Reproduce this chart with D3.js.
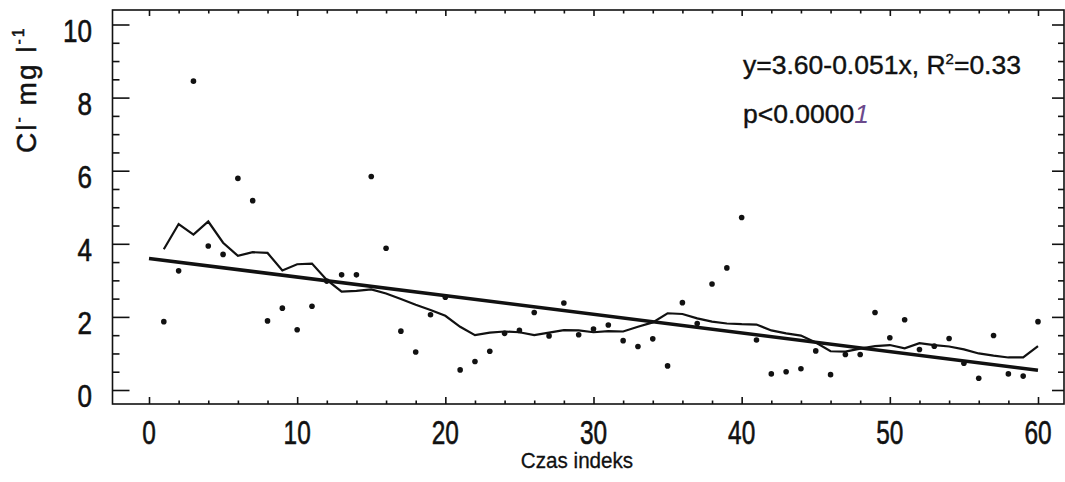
<!DOCTYPE html>
<html>
<head>
<meta charset="utf-8">
<script src="https://cdn.jsdelivr.net/npm/d3@7"></script>
<style>
  body { margin: 0; background: #fff; }
  svg { display: block; font-family: "Liberation Sans", Arial, sans-serif; }
</style>
</head>
<body>
<div id="chart"></div>
<script>
// time index 1..60
const idx = d3.range(1, 61);
const chloride = [1.87, 3.26, 8.45, 3.94, 3.71, 5.79, 5.18, 1.89, 2.24, 1.65,
    2.29, 2.98, 3.15, 3.15, 5.84, 3.88, 1.61, 1.04, 2.06, 2.54,
    0.55, 0.78, 1.06, 1.55, 1.63, 2.12, 1.48, 2.38, 1.51, 1.67,
    1.78, 1.35, 1.19, 1.40, 0.66, 2.39, 1.82, 2.90, 3.34, 4.72,
    1.37, 0.44, 0.50, 0.58, 1.07, 0.42, 0.97, 0.97, 2.12, 1.43,
    1.92, 1.11, 1.20, 1.41, 0.73, 0.32, 1.49, 0.44, 0.38, 1.87];
const smooth = [3.85, 4.54, 4.25, 4.61, 4.03, 3.67, 3.77, 3.75, 3.27, 3.44,
    3.46, 3.01, 2.69, 2.71, 2.75, 2.64, 2.49, 2.33, 2.19, 2.03,
    1.73, 1.50, 1.57, 1.60, 1.58, 1.50, 1.57, 1.64, 1.63, 1.58,
    1.61, 1.60, 1.73, 1.85, 2.10, 2.08, 1.96, 1.87, 1.82, 1.80,
    1.79, 1.63, 1.55, 1.49, 1.30, 1.06, 1.05, 1.13, 1.20, 1.23,
    1.14, 1.28, 1.23, 1.19, 1.11, 1.00, 0.94, 0.89, 0.89, 1.20];
const intercept = 3.60, slope = -0.051;
const xTicks = [0, 10, 20, 30, 40, 50, 60];
const yTicks = [0, 2, 4, 6, 8, 10];

const W = 1065, H = 482;
const frame = {left: 112.5, top: 10, right: 1064, bottom: 404};

const x = d3.scaleLinear().domain([0, 60]).range([149, 1038]);
const y = d3.scaleLinear().domain([0, 10]).range([390, 24.5]);

const svg = d3.select("#chart").append("svg")
    .attr("width", W)
    .attr("height", H);

// frame
svg.append("rect")
    .attr("x", frame.left).attr("y", frame.top)
    .attr("width", frame.right - frame.left)
    .attr("height", frame.bottom - frame.top)
    .attr("fill", "none")
    .attr("stroke", "#111")
    .attr("stroke-width", 1.6);

const yMinor = d3.range(0, 10.01, 0.5).filter(v => v % 2 !== 0);
const xMinor = d3.range(0, 60.01, 2).filter(v => v % 10 !== 0);

function tickAxis(axis, pos, ticks, size) {
    svg.append("g")
        .attr("transform", pos)
        .call(axis.tickValues(ticks).tickSize(size).tickFormat(""))
        .call(g => g.select(".domain").remove())
        .call(g => g.selectAll("line").attr("stroke", "#111").attr("stroke-width", 1.6));
}
// inward ticks on all four sides
tickAxis(d3.axisLeft(y), `translate(${frame.left},0)`, yTicks, -17);
tickAxis(d3.axisLeft(y), `translate(${frame.left},0)`, yMinor, -7);
tickAxis(d3.axisRight(y), `translate(${frame.right},0)`, yTicks, -12);
tickAxis(d3.axisRight(y), `translate(${frame.right},0)`, yMinor, -6);
tickAxis(d3.axisBottom(x), `translate(0,${frame.bottom})`, xTicks, -7);
tickAxis(d3.axisBottom(x), `translate(0,${frame.bottom})`, xMinor, -3.5);
tickAxis(d3.axisTop(x), `translate(0,${frame.top})`, xTicks, -6);
tickAxis(d3.axisTop(x), `translate(0,${frame.top})`, xMinor, -3.5);

// tick labels (condensed look, a bit heavy like the scan)
svg.selectAll(".ylab")
    .data(yTicks)
    .enter().append("text")
    .attr("class", "ylab")
    .attr("transform", d => `translate(92,${y(d) + 17}) scale(0.84,1)`)
    .attr("text-anchor", "end")
    .attr("font-size", "31px")
    .attr("fill", "#111")
    .attr("stroke", "#111")
    .attr("stroke-width", 0.6)
    .text(d => d);

svg.selectAll(".xlab")
    .data(xTicks)
    .enter().append("text")
    .attr("class", "xlab")
    .attr("transform", d => `translate(${x(d)},444) scale(0.74,1)`)
    .attr("text-anchor", "middle")
    .attr("font-size", "33px")
    .attr("fill", "#111")
    .attr("stroke", "#111")
    .attr("stroke-width", 0.6)
    .text(d => d);

svg.append("text")
    .attr("transform", "translate(577,468) scale(0.96,1)")
    .attr("text-anchor", "middle")
    .attr("font-size", "21.5px")
    .attr("fill", "#111")
    .attr("stroke", "#111")
    .attr("stroke-width", 0.3)
    .text("Czas indeks");

// y title
const yt = svg.append("text")
    .attr("transform", "translate(36,153) rotate(-90)")
    .attr("font-size", "28px")
    .attr("letter-spacing", "2px")
    .attr("fill", "#111")
    .attr("stroke", "#111")
    .attr("stroke-width", 0.5);
yt.append("tspan").text("Cl");
yt.append("tspan").attr("font-size", "16px").attr("dy", -12).text("-");
yt.append("tspan").attr("dy", 12).text(" mg l");
yt.append("tspan").attr("font-size", "16px").attr("dy", -12).text("-1");

// regression line
svg.append("line")
    .attr("x1", x(0)).attr("y1", y(intercept))
    .attr("x2", x(60)).attr("y2", y(intercept + slope * 60))
    .attr("stroke", "#111")
    .attr("stroke-width", 3.5);

// smoothed curve
const line = d3.line()
    .x((d, i) => x(idx[i]))
    .y(d => y(d));
svg.append("path")
    .datum(smooth)
    .attr("d", line)
    .attr("fill", "none")
    .attr("stroke", "#111")
    .attr("stroke-width", 2.2)
    .attr("stroke-linejoin", "miter");

// observations
svg.selectAll(".pt")
    .data(chloride)
    .enter().append("circle")
    .attr("class", "pt")
    .attr("cx", (d, i) => x(idx[i]))
    .attr("cy", d => y(d))
    .attr("r", 2.8)
    .attr("fill", "#111");

// annotation
const eq = svg.append("text")
    .attr("x", 743).attr("y", 74)
    .attr("font-size", "26.5px")
    .attr("fill", "#111")
    .attr("stroke", "#111")
    .attr("stroke-width", 0.4);
eq.append("tspan").text("y=3.60-0.051x,  R");
eq.append("tspan").attr("font-size", "15px").attr("dy", -10).text("2");
eq.append("tspan").attr("dy", 10).text("=0.33");

const pv = svg.append("text")
    .attr("x", 743).attr("y", 123)
    .attr("font-size", "26.5px")
    .attr("fill", "#111")
    .attr("stroke", "#111")
    .attr("stroke-width", 0.4);
pv.append("tspan").text("p<0.0000");
pv.append("tspan")
    .attr("fill", "#6b4a8c")
    .attr("stroke", "none")
    .attr("font-style", "italic")
    .text("1");
</script>
</body>
</html>
